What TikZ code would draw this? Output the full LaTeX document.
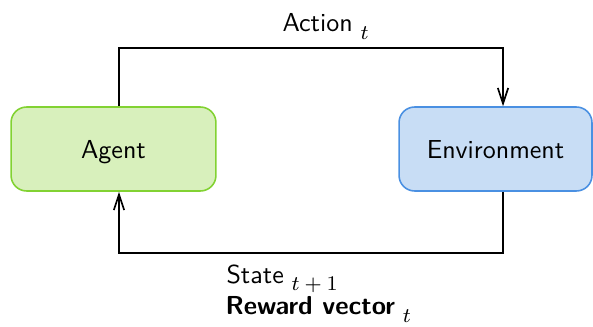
\documentclass[tikz,border=0pt]{standalone}
\usetikzlibrary{calc,arrows.meta}
\definecolor{agentfill}{RGB}{216,240,188}
\definecolor{agentline}{RGB}{130,210,50}
\definecolor{envfill}{RGB}{200,221,245}
\definecolor{envline}{RGB}{74,144,226}
% subscript set a little apart from the word and lower than usual
\newcommand{\lowsub}[1]{\hspace{3pt}\raisebox{-2.9pt}{\fontsize{7.6}{9}\selectfont$#1$}}
\begin{document}
\begin{tikzpicture}[x=0.3846pt,y=-0.3846pt,
  txt/.style={font=\sffamily},
  box/.style={txt,rounded corners=6pt,line width=0.6pt,
    minimum height=32.3pt,inner sep=0pt,text height=7.2pt,text depth=0pt},
  agentbox/.style={box,draw=agentline,fill=agentfill,minimum width=78.8pt},
  envbox/.style={box,draw=envline,fill=envfill,minimum width=74.2pt},
  flow/.style={-{Straight Barb[length=6pt,width=4pt]},line width=0.65pt,black},
  lbl/.style={txt,inner sep=0pt,anchor=base west}]
\useasboundingbox (0,0) rectangle (593,327);

\node[agentbox] (agent) at (113.5,149) {Agent};
\node[envbox] (env) at (495.5,149) {Environment};

% attachment points of the loop on the two boxes
\path (agent.north) ++(5.5,0) coordinate (aup);
\path (agent.south) ++(5.5,0) coordinate (adn);
\path (env.north) ++(7.5,0) coordinate (eup);
\path (env.south) ++(7.5,0) coordinate (edn);

% action goes from the agent to the environment
\draw[flow] (aup) -- (aup |- 0,48) -| (eup);
% state and reward come back to the agent
\draw[flow] (edn) -- (edn |- 0,253) -| (adn);

\node[lbl] (action) at (282,31.7) {Action\lowsub{t}};
\node[lbl] (state) at (226,283.3) {State\lowsub{t+1}};
\node[lbl] (reward) at (225,315) {\textbf{Reward vector}\lowsub{t}};
\end{tikzpicture}
\end{document}
